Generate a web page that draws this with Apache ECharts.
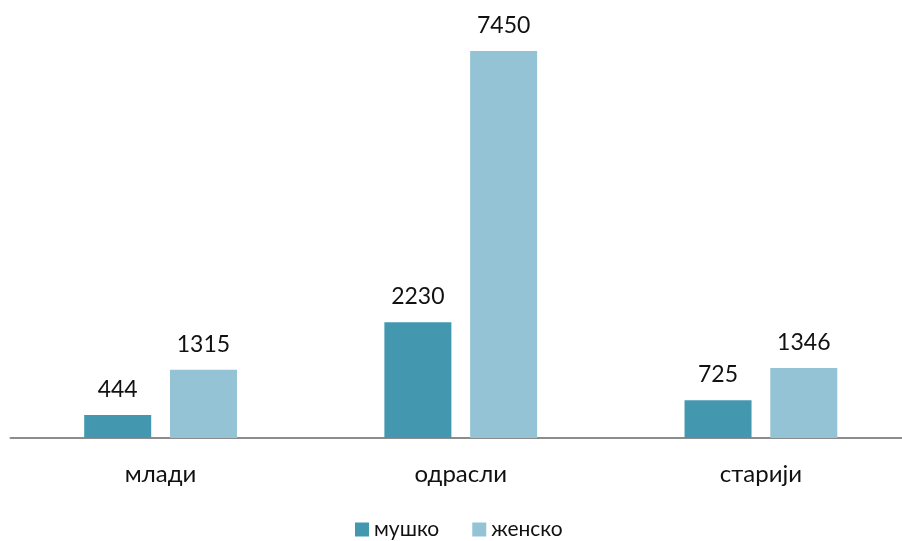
<!DOCTYPE html>
<html>
<head>
<meta charset="utf-8">
<script src="https://cdn.jsdelivr.net/npm/echarts@6/dist/echarts.min.js"></script>
<style>html,body{margin:0;padding:0;background:#fff;overflow:hidden}body{width:902px;height:541px}#c{width:911px;height:541px}</style>
</head>
<body>
<div id="c"></div>
<script>
const categories = ['млади', 'одрасли', 'старији'];
const seriesNames = ['мушко', 'женско'];
const male = [444, 2230, 725];
const female = [1315, 7450, 1346];

const chart = echarts.init(document.getElementById('c'), null, {renderer: 'canvas'});
const font = 'Lato, "Open Sans", "Liberation Sans", sans-serif';
const labelStyle = {show: true, position: 'top', distance: 14, color: '#111', fontSize: 23, fontFamily: font};
chart.setOption({
  animation: false,
  backgroundColor: '#fff',
  grid: {left: 10.5, right: 0, top: 22.4, height: 415.6, containLabel: false},
  legend: {
    data: seriesNames, top: 514, left: 350, itemWidth: 14, itemHeight: 14, itemGap: 33,
    icon: 'rect',
    textStyle: {fontSize: 21, color: '#111', fontFamily: font, padding: [0, 0, 0, 0]}
  },
  xAxis: {
    type: 'category', data: categories,
    axisLine: {lineStyle: {color: '#8c8c8c', width: 2}},
    axisTick: {show: false},
    axisLabel: {fontSize: 24, color: '#111', fontFamily: font, margin: 24}
  },
  yAxis: {type: 'value', min: 0, max: 8000, show: false, splitLine: {show: false}},
  series: [
    {name: seriesNames[0], type: 'bar', data: male, barWidth: 67, barGap: '28%',
     itemStyle: {color: '#4398B0'}, label: labelStyle},
    {name: seriesNames[1], type: 'bar', data: female, barWidth: 67,
     itemStyle: {color: '#93C3D5'}, label: labelStyle}
  ]
});
</script>
</body>
</html>
